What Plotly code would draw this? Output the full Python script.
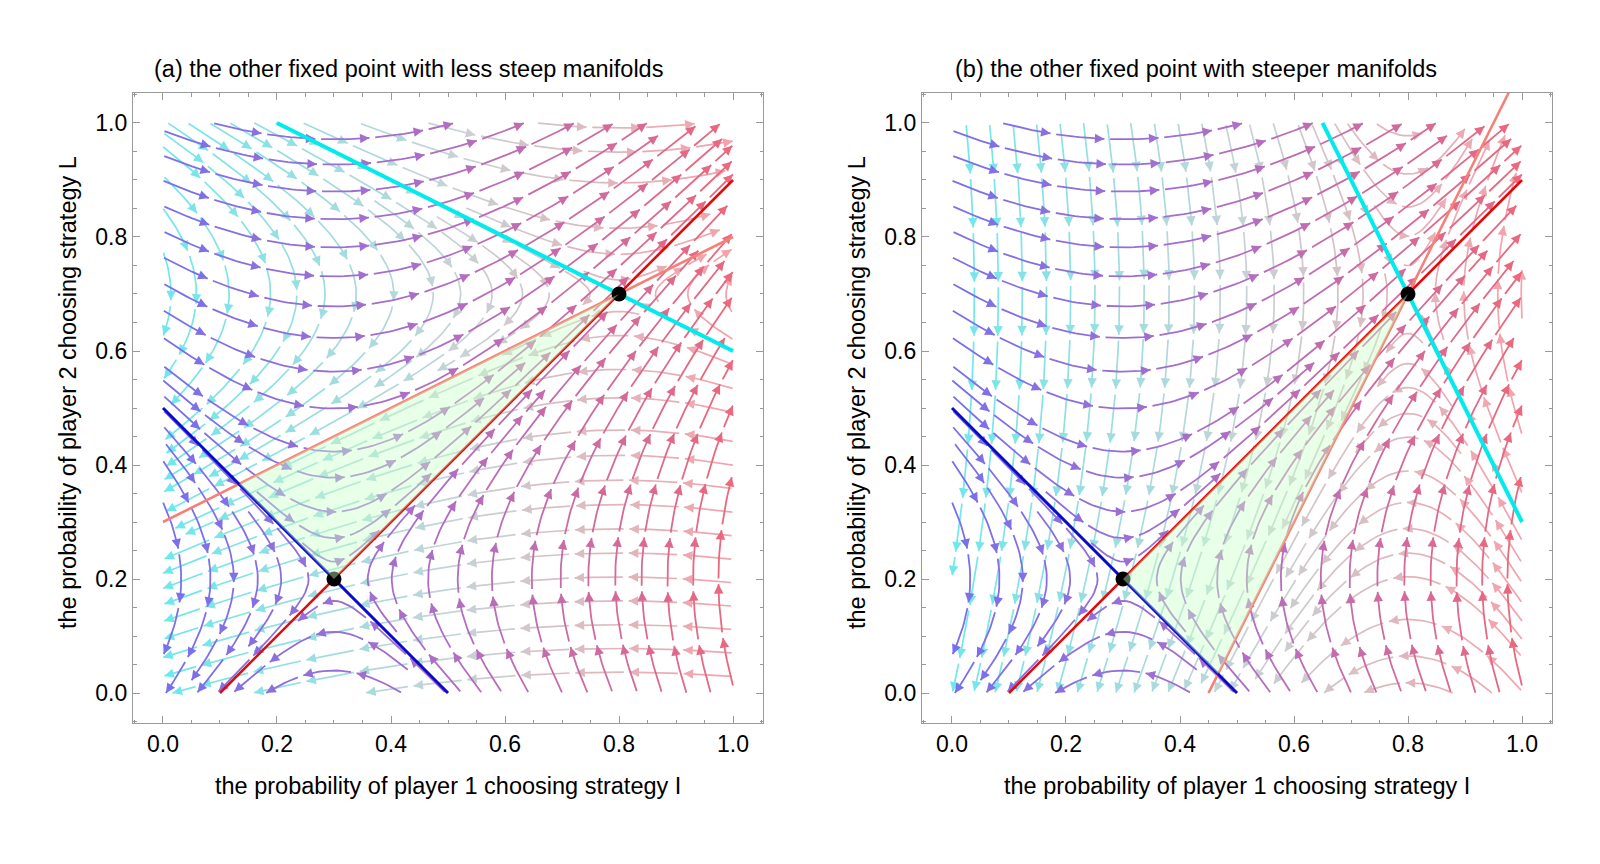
import math
import numpy as np
import plotly.graph_objects as go

# ---------------- data ----------------
panel_titles = ["(a) the other fixed point with less steep manifolds",
                "(b) the other fixed point with steeper manifolds"]
x_label = "the probability of player 1 choosing strategy I"
y_label = "the probability of player 2 choosing strategy L"
tick_vals = [0.0, 0.2, 0.4, 0.6, 0.8, 1.0]
tick_text = ["0.0", "0.2", "0.4", "0.6", "0.8", "1.0"]

# fixed points (black dots)
fixed_x = [0.3, 0.8]
fixed_y = [0.2, 0.7]

# vector field A: saddle at first fixed point, v = (y - y0, gain*(x - x0))
field_a_center = [0.3, 0.2]
field_a_gain = [1.0, 1.0]          # panel a, panel b
# vector field B: saddle at second fixed point
field_b_center = [0.8, 0.7]
field_b_gain = [0.25, 4.0]         # panel a (less steep), panel b (steeper)

# manifold lines (end points)
red_x = [0.1, 1.0]
red_y = [0.0, 0.9]
blue_x = [0.0, 0.5]
blue_y = [0.5, 0.0]
cyan_x = [[0.2, 1.0], [0.65, 1.0]]
cyan_y = [[1.0, 0.6], [1.0, 0.3]]
salmon_x = [[0.0, 1.0], [0.45, 1.0]]
salmon_y = [[0.3, 0.8], [0.0, 1.1]]
# shaded basin triangles
green_x = [[0.1333, 0.3, 0.8], [0.3, 0.4667, 0.8]]
green_y = [[0.3667, 0.2, 0.7], [0.2, 0.0333, 0.7]]

# ---------------- streamline machinery ----------------
H = 0.004


def velocity(center, gain, x, y):
    return (y - center[1], gain * (x - center[0]))


class Grid:
    def __init__(self, cell):
        self.cell = cell
        self.d = {}

    def add(self, x, y):
        self.d.setdefault((int(x / self.cell), int(y / self.cell)), []).append((x, y))

    def near(self, x, y, r):
        i, j = int(x / self.cell), int(y / self.cell)
        r2 = r * r
        for di in (-1, 0, 1):
            for dj in (-1, 0, 1):
                pts = self.d.get((i + di, j + dj))
                if pts:
                    for (qx, qy) in pts:
                        if (qx - x) ** 2 + (qy - y) ** 2 < r2:
                            return True
        return False


def integrate(center, gain, x, y, sgn, grid, dtest, nmax=1200):
    pts = []
    for _ in range(nmax):
        vx, vy = velocity(center, gain, x, y)
        n = math.hypot(vx, vy)
        if n < 1e-9:
            break
        mx = x + 0.5 * H * sgn * vx / n
        my = y + 0.5 * H * sgn * vy / n
        vx2, vy2 = velocity(center, gain, mx, my)
        n2 = math.hypot(vx2, vy2)
        if n2 < 1e-9:
            break
        nx = x + H * sgn * vx2 / n2
        ny = y + H * sgn * vy2 / n2
        if not (0.0 <= nx <= 1.0 and 0.0 <= ny <= 1.0):
            break
        if math.hypot(nx - center[0], ny - center[1]) < 0.02:
            break
        if grid.near(nx, ny, dtest):
            break
        pts.append((nx, ny))
        x, y = nx, ny
    return pts


def compute_streamlines(center, gain, dsep=0.041, dtest_ratio=0.42, minlen=0.07):
    grid = Grid(dsep)
    dtest = dsep * dtest_ratio
    lines = []

    def try_seed(x, y):
        if not (0.0 < x < 1.0 and 0.0 < y < 1.0):
            return None
        if math.hypot(x - center[0], y - center[1]) < 0.03:
            return None
        if grid.near(x, y, dsep * 0.98):
            return None
        b = integrate(center, gain, x, y, -1, grid, dtest)
        f = integrate(center, gain, x, y, +1, grid, dtest)
        line = b[::-1] + [(x, y)] + f
        if len(line) * H < minlen:
            return None
        for p in line:
            grid.add(*p)
        lines.append(line)
        return line

    queue = []

    def process_queue():
        while queue:
            L = queue.pop(0)
            for i in range(0, len(L), 4):
                px, py = L[i]
                vx, vy = velocity(center, gain, px, py)
                n = math.hypot(vx, vy)
                if n < 1e-9:
                    continue
                nxv, nyv = -vy / n, vx / n
                for s in (1, -1):
                    new = try_seed(px + s * dsep * nxv, py + s * dsep * nyv)
                    if new is not None:
                        queue.append(new)

    first = try_seed(0.5, 0.5)
    if first is not None:
        queue.append(first)
    process_queue()
    step = dsep / 2
    for gx in np.arange(step / 2, 1.0, step):
        for gy in np.arange(step / 2, 1.0, step):
            new = try_seed(float(gx), float(gy))
            if new is not None:
                queue.append(new)
                process_queue()
    return lines


def split_arrows(line, seg=0.085, gap=0.01, minpiece=0.03):
    arr = np.array(line)
    if len(arr) < 3:
        return []
    d = np.hypot(np.diff(arr[:, 0]), np.diff(arr[:, 1]))
    s = np.concatenate([[0.0], np.cumsum(d)])
    total = s[-1]
    pieces = []
    start = 0.0
    while start < total:
        end = min(start + seg, total)
        if end - start >= minpiece:
            ss = np.concatenate([[start], s[(s > start) & (s < end)][::2], [end]])
            xs = np.interp(ss, s, arr[:, 0])
            ys = np.interp(ss, s, arr[:, 1])
            e0 = max(end - 0.01, start)
            dx = np.interp(end, s, arr[:, 0]) - np.interp(e0, s, arr[:, 0])
            dy = np.interp(end, s, arr[:, 1]) - np.interp(e0, s, arr[:, 1])
            pieces.append((xs, ys, dx, dy))
        start += seg + gap
    return pieces


def blend(stops, t):
    t = min(max(t, 0.0), 1.0)
    for (t0, c0), (t1, c1) in zip(stops[:-1], stops[1:]):
        if t <= t1:
            u = (t - t0) / (t1 - t0)
            return tuple(int(round(a + (b - a) * u)) for a, b in zip(c0, c1))
    return stops[-1][1]


colA_stops = [(0.0, (118, 112, 238)), (0.5, (176, 110, 196)), (1.0, (236, 104, 124))]
colB_stops = [(0.0, (110, 232, 236)), (0.5, (196, 212, 214)), (1.0, (246, 160, 170))]
NBINS = 24

fig = go.Figure()

# pixel layout: 570 px per unit, frame 630 px
x_domains = [[133 / 1600, 763 / 1600], [922 / 1600, 1552 / 1600]]
y_domain = [1 - 723 / 864, 1 - 93 / 864]
axis_range = [-0.0526, 1.0526]


def add_field(center, gain, stops, xa, ya, lw):
    lines = compute_streamlines(center, gain)
    bins = [([], []) for _ in range(NBINS)]
    mx, my, mang, mcol = [], [], [], []
    for L in lines:
        for xs, ys, dx, dy in split_arrows(L):
            t = float(np.mean(xs))
            b = min(NBINS - 1, int(t * NBINS))
            bins[b][0].extend(list(xs) + [None])
            bins[b][1].extend(list(ys) + [None])
            mx.append(xs[-1])
            my.append(ys[-1])
            mang.append(math.degrees(math.atan2(dx, dy)))
            c = blend(stops, float(xs[-1]))
            mcol.append("rgb(%d,%d,%d)" % c)
    for b in range(NBINS):
        if not bins[b][0]:
            continue
        c = blend(stops, (b + 0.5) / NBINS)
        fig.add_trace(go.Scatter(x=bins[b][0], y=bins[b][1], mode="lines",
                                 line=dict(color="rgb(%d,%d,%d)" % c, width=lw),
                                 hoverinfo="skip", showlegend=False,
                                 xaxis=xa, yaxis=ya))
    fig.add_trace(go.Scatter(x=mx, y=my, mode="markers",
                             marker=dict(symbol="arrow-up", size=9.5, angle=mang,
                                         color=mcol, line=dict(width=0)),
                             hoverinfo="skip", showlegend=False,
                             xaxis=xa, yaxis=ya))


for k in range(2):
    xa = "x" if k == 0 else "x2"
    ya = "y" if k == 0 else "y2"
    add_field(field_b_center, field_b_gain[k], colB_stops, xa, ya, 1.7)
    add_field(field_a_center, field_a_gain[k], colA_stops, xa, ya, 1.8)
    # manifolds
    fig.add_trace(go.Scatter(x=salmon_x[k], y=salmon_y[k], mode="lines",
                             line=dict(color="rgb(246,128,118)", width=2.6),
                             hoverinfo="skip", showlegend=False, xaxis=xa, yaxis=ya))
    fig.add_trace(go.Scatter(x=red_x, y=red_y, mode="lines",
                             line=dict(color="rgb(228,10,10)", width=2.6),
                             hoverinfo="skip", showlegend=False, xaxis=xa, yaxis=ya))
    fig.add_trace(go.Scatter(x=blue_x, y=blue_y, mode="lines",
                             line=dict(color="rgb(10,10,200)", width=3),
                             hoverinfo="skip", showlegend=False, xaxis=xa, yaxis=ya))
    fig.add_trace(go.Scatter(x=cyan_x[k], y=cyan_y[k], mode="lines",
                             line=dict(color="rgb(0,236,236)", width=4),
                             hoverinfo="skip", showlegend=False, xaxis=xa, yaxis=ya))
    fig.add_trace(go.Scatter(x=fixed_x, y=fixed_y, mode="markers",
                             marker=dict(color="black", size=15),
                             hoverinfo="skip", showlegend=False, xaxis=xa, yaxis=ya))
    fig.add_trace(go.Scatter(x=green_x[k] + [green_x[k][0]], y=green_y[k] + [green_y[k][0]],
                             mode="lines", fill="toself",
                             fillcolor="rgba(200,255,200,0.42)",
                             line=dict(width=0, color="rgba(0,0,0,0)"),
                             hoverinfo="skip", showlegend=False, xaxis=xa, yaxis=ya))

axis_common = dict(range=axis_range, showgrid=False, zeroline=False,
                   showline=True, linecolor="#9a9a9a", linewidth=1.2, mirror="ticks",
                   ticks="inside", ticklen=7, tickcolor="#9a9a9a", tickwidth=1,
                   tickvals=tick_vals, ticktext=tick_text,
                   tickfont=dict(family="Liberation Sans, Arial, sans-serif", size=23, color="black"),
                   minor=dict(ticks="inside", dtick=0.05, tick0=0, ticklen=3.5,
                              tickcolor="#9a9a9a", showgrid=False),
                   fixedrange=True)

fig.update_layout(
    width=1600, height=864,
    paper_bgcolor="white", plot_bgcolor="white",
    margin=dict(l=0, r=0, t=0, b=0),
    xaxis=dict(domain=x_domains[0], anchor="y", **axis_common),
    yaxis=dict(domain=y_domain, anchor="x", **axis_common),
    xaxis2=dict(domain=x_domains[1], anchor="y2", **axis_common),
    yaxis2=dict(domain=y_domain, anchor="x2", **axis_common),
)

font = dict(family="Liberation Sans, Arial, sans-serif", size=23.5, color="black")
ann = []
title_cx = [408 / 1600, 1196 / 1600]
for k in range(2):
    ann.append(dict(text=panel_titles[k], x=title_cx[k], y=1 - 69 / 864, xref="paper", yref="paper",
                    xanchor="center", yanchor="middle", showarrow=False, font=font))
    cx = (x_domains[k][0] + x_domains[k][1]) / 2
    ann.append(dict(text=x_label, x=cx, y=1 - 786 / 864, xref="paper", yref="paper",
                    xanchor="center", yanchor="middle", showarrow=False, font=font))
    ann.append(dict(text=y_label, x=x_domains[k][0] - 65 / 1600, y=1 - 393 / 864,
                    xref="paper", yref="paper", textangle=-90,
                    xanchor="center", yanchor="middle", showarrow=False, font=font))
fig.update_layout(annotations=ann)

fig.write_html("out.html",
               config={"displayModeBar": False, "staticPlot": True},
               post_script="document.body.style.margin='0px';document.body.style.overflow='hidden';")
